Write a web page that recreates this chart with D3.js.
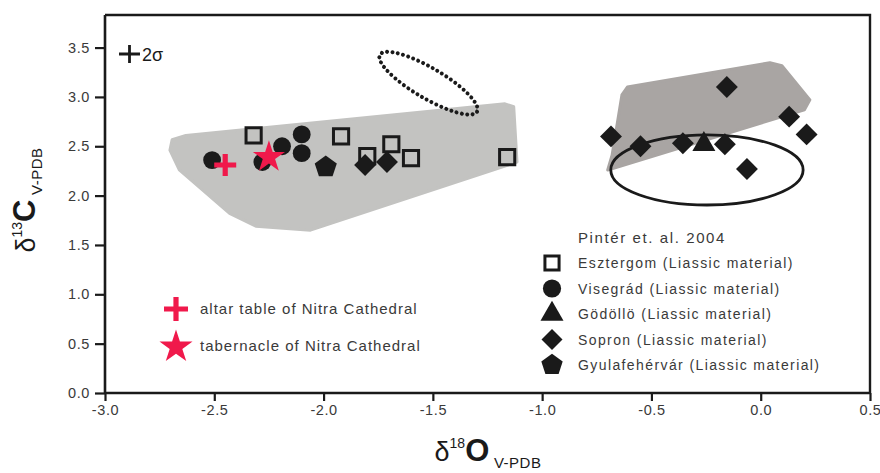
<!DOCTYPE html>
<html><head><meta charset="utf-8">
<script src="https://cdn.jsdelivr.net/npm/d3@7"></script>
<style>body{margin:0;background:#fff}svg{display:block}text{font-family:"Liberation Sans",Arial,sans-serif}</style>
</head><body><svg id="c" width="880" height="473"></svg>
<script>
// ---- data ----
const xTicks = [-3.0,-2.5,-2.0,-1.5,-1.0,-0.5,0.0,0.5];
const yTicks = [0.0,0.5,1.0,1.5,2.0,2.5,3.0,3.5];
const esztergom = [[-2.32,2.61],[-1.92,2.60],[-1.80,2.40],[-1.69,2.52],[-1.60,2.38],[-1.16,2.39]];
const visegrad = [[-2.51,2.36],[-2.28,2.34],[-2.19,2.50],[-2.10,2.62],[-2.10,2.43]];
const godollo = [[-0.26,2.52]];
const sopron = [[-1.81,2.31],[-1.71,2.34],[-0.685,2.60],[-0.55,2.50],[-0.356,2.53],[-0.164,2.52],[-0.155,3.10],[0.13,2.80],[0.21,2.62],[-0.063,2.27]];
const gyulafehervar = [[-1.99,2.29]];
const altarTable = [[-2.45,2.31]];
const tabernacle = [[-2.25,2.39]];
const leftField = [[-2.693,2.566],[-2.63,2.61],[-1.17,2.93],[-1.13,2.90],[-1.115,2.34],[-2.06,1.65],[-2.31,1.69],[-2.43,1.82],[-2.66,2.26],[-2.703,2.46]];
const rightField = [[-0.635,3.02],[-0.61,3.10],[0.042,3.347],[0.097,3.316],[0.225,2.97],[0.20,2.87],[-0.70,2.26],[-0.68,2.41]];
const solidEllipse = {cx:-0.246, cy:2.26, rx:0.44, ry:0.355};
const dottedEllipse = {x1:-1.742, y1:3.428, x2:-1.298, y2:2.85, ry:2.0/13};
const legendPinter = ["Esztergom (Liassic material)","Visegrád (Liassic material)","Gödöllö (Liassic material)","Sopron (Liassic material)","Gyulafehérvár (Liassic material)"];
const legendNitra = ["altar table of Nitra Cathedral","tabernacle of Nitra Cathedral"];

// ---- chart ----
const svg = d3.select("#c");
const x = d3.scaleLinear().domain([-3,0.5]).range([105,870]);
const y = d3.scaleLinear().domain([0,3.83]).range([393,15]);
const RED = "#f0194b", INK = "#1a1a1a", TXT = "#3a3a3a";

const line = d3.line().x(d=>x(d[0])).y(d=>y(d[1])).curve(d3.curveLinearClosed);
svg.append("path").attr("d", line(leftField)).attr("fill","#c3c3c1").attr("stroke","#c3c3c1").attr("stroke-width",3).attr("stroke-linejoin","round");
svg.append("path").attr("d", line(rightField)).attr("fill","#a9a5a3").attr("stroke","#a9a5a3").attr("stroke-width",3).attr("stroke-linejoin","round");

// solid ellipse
svg.append("ellipse").attr("cx",x(solidEllipse.cx)).attr("cy",y(solidEllipse.cy))
  .attr("rx",x(solidEllipse.rx)-x(0)).attr("ry",y(0)-y(solidEllipse.ry))
  .attr("fill","none").attr("stroke",INK).attr("stroke-width",2.8);
// dotted ellipse
{
  const px1=x(dottedEllipse.x1), py1=y(dottedEllipse.y1), px2=x(dottedEllipse.x2), py2=y(dottedEllipse.y2);
  const cx=(px1+px2)/2, cy=(py1+py2)/2, a=Math.hypot(px2-px1,py2-py1)/2, ang=Math.atan2(py2-py1,px2-px1)*180/Math.PI;
  svg.append("ellipse").attr("cx",cx).attr("cy",cy).attr("rx",a).attr("ry",y(0)-y(dottedEllipse.ry))
    .attr("transform",`rotate(${ang},${cx},${cy})`)
    .attr("fill","none").attr("stroke",INK).attr("stroke-width",4).attr("stroke-linecap","round").attr("stroke-dasharray","0 5.4");
}

// symbols
const pentagon = {draw(ctx,size){const r=Math.sqrt(size/2.378);for(let i=0;i<5;i++){const t=-Math.PI/2+i*2*Math.PI/5;const px=r*Math.cos(t),py=r*Math.sin(t);i?ctx.lineTo(px,py):ctx.moveTo(px,py);}ctx.closePath();}};
const redCross = (g, size) => {
  g.append("path").attr("d",`M${-size},0H${size}M0,${-size}V${size}`).attr("stroke",RED).attr("stroke-width",5.2).attr("fill","none");
};
function pts(data, type, size, opts){
  const g = svg.append("g");
  g.selectAll("path").data(data).join("path")
    .attr("transform",d=>`translate(${x(d[0])},${y(d[1])})${opts.rot?" rotate(45)":""}`)
    .attr("d", d3.symbol().type(type).size(size))
    .attr("fill",opts.fill).attr("stroke",opts.stroke||"none").attr("stroke-width",opts.sw||0);
}
pts(esztergom, d3.symbolSquare, 230, {fill:"none", stroke:INK, sw:3});
pts(visegrad, d3.symbolCircle, 250, {fill:INK});
pts(gyulafehervar, pentagon, 320, {fill:INK});
pts(sopron, d3.symbolSquare, 240, {fill:INK, rot:true});
pts(godollo, d3.symbolTriangle, 230, {fill:INK});
altarTable.forEach(d=>{const g=svg.append("g").attr("transform",`translate(${x(d[0])},${y(d[1])})`);redCross(g,11);});
pts(tabernacle, d3.symbolStar, 320, {fill:RED});

// axes
const fmt = d => d.toFixed(1);
const ax = svg.append("g").attr("transform","translate(0,393)").call(d3.axisBottom(x).tickValues(xTicks).tickFormat(fmt).tickSize(8).tickSizeOuter(0).tickPadding(4));
const ay = svg.append("g").attr("transform","translate(105,0)").call(d3.axisLeft(y).tickValues(yTicks).tickFormat(fmt).tickSize(10).tickSizeOuter(0).tickPadding(5));
[ax,ay].forEach(a=>{
  a.select(".domain").attr("stroke",INK).attr("stroke-width",2.6);
  a.selectAll(".tick line").attr("stroke",INK).attr("stroke-width",2.2);
  a.selectAll(".tick text").attr("fill",TXT).attr("font-size",14.5).attr("letter-spacing",0.6).attr("font-family","Liberation Sans, Arial, sans-serif");
});
ax.select(".domain").attr("d",`M${x(-3)},0H${x(0.5)}`);
ay.select(".domain").attr("d",`M0,${y(0)}V${y(3.83)}`);
// frame top & right
svg.append("path").attr("d",`M${x(-3)},${y(3.83)}H${x(0.5)}V${y(0)}`).attr("fill","none").attr("stroke",INK).attr("stroke-width",2.4);

// 2 sigma marker
svg.append("path").attr("d",`M119,54H140M129.5,45V63`).attr("stroke",INK).attr("stroke-width",2.8);
svg.append("text").attr("x",142).attr("y",61).attr("font-size",18).attr("fill",INK).text("2σ");

// axis titles
const xt = svg.append("text").attr("x",488).attr("y",461).attr("text-anchor","middle").attr("fill",INK);
xt.append("tspan").attr("font-size",27).text("δ");
xt.append("tspan").attr("font-size",14).attr("dy",-13).text("18");
xt.append("tspan").attr("font-size",31).attr("font-weight","bold").attr("dy",13).text("O");
xt.append("tspan").attr("font-size",15).attr("dy",7).attr("letter-spacing",0.5).text(" V-PDB");
const yt = svg.append("text").attr("transform","translate(35,200) rotate(-90)").attr("text-anchor","middle").attr("fill",INK);
yt.append("tspan").attr("font-size",27).text("δ");
yt.append("tspan").attr("font-size",14).attr("dy",-13).text("13");
yt.append("tspan").attr("font-size",31).attr("font-weight","bold").attr("dy",13).text("C");
yt.append("tspan").attr("font-size",15).attr("dy",7).attr("letter-spacing",0.5).text(" V-PDB");

// legend Pinter
svg.append("text").attr("x",578).attr("y",243).attr("font-size",15).attr("letter-spacing",1.6).attr("fill",TXT).text("Pintér et. al. 2004");
const legTypes = [[d3.symbolSquare,200,"none",false],[d3.symbolCircle,260,INK,false],[d3.symbolTriangle,230,INK,false],[d3.symbolSquare,220,INK,true],[pentagon,300,INK,false]];
legendPinter.forEach((t,i)=>{
  const yy = 263 + i*25.5;
  const [type,size,fill,rot] = legTypes[i];
  svg.append("path").attr("transform",`translate(552,${yy})${rot?" rotate(45)":""}`).attr("d",d3.symbol().type(type).size(size))
    .attr("fill",fill).attr("stroke",i===0?INK:"none").attr("stroke-width",3);
  svg.append("text").attr("x",578).attr("y",yy+5).attr("font-size",14).attr("letter-spacing",1.4).attr("fill",TXT).text(t);
});
// legend Nitra
{
  const g = svg.append("g").attr("transform","translate(176,309)"); redCross(g,12);
  svg.append("path").attr("transform","translate(176,347)").attr("d",d3.symbol().type(d3.symbolStar).size(340)).attr("fill",RED);
  legendNitra.forEach((t,i)=>svg.append("text").attr("x",200).attr("y",314+i*37).attr("font-size",15).attr("letter-spacing",1).attr("fill",TXT).text(t));
}
</script></body></html>
